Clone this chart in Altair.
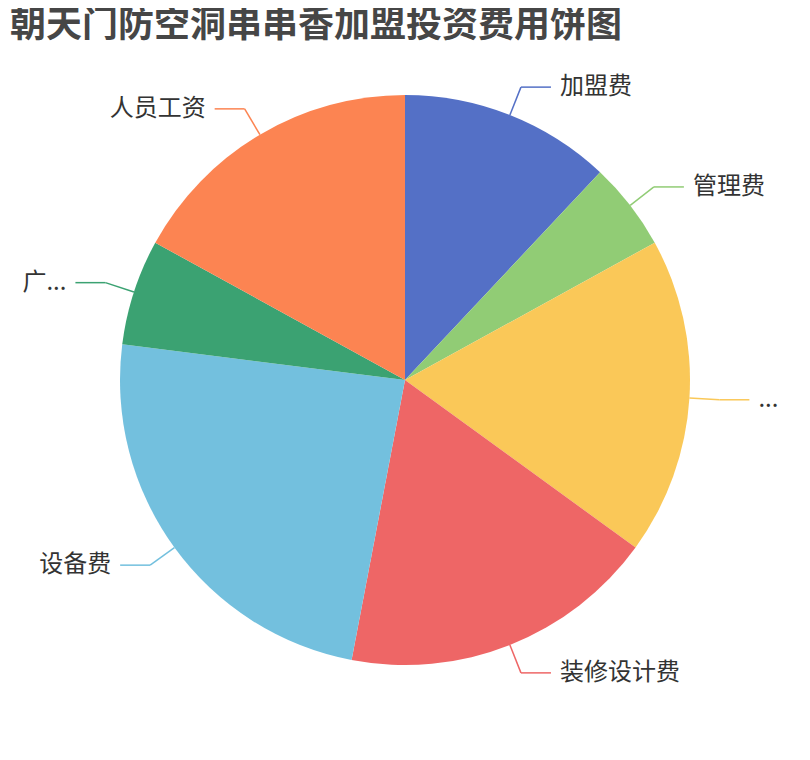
import altair as alt
import pandas as pd

# ---- data ----
names = ["加盟费", "管理费", "...", "装修设计费", "设备费", "广...", "人员工资"]
values = [6, 2.5, 9, 9, 12, 3, 8.5]
colors = ["#5470c6", "#91cc75", "#fac858", "#ee6666", "#73c0de", "#3ba272", "#fc8452"]
title_text = "朝天门防空洞串串香加盟投资费用饼图"

df = pd.DataFrame({"name": names, "value": values, "idx": list(range(len(names)))})

# ---- layout constants ----
W, H = 794, 644
R = 285      # pie radius (px)
L1 = 30      # radial leader segment
L2 = 30      # horizontal leader segment
GAP = 9      # gap between leader end and label
FONT = "Noto Sans CJK SC"

xs = alt.Scale(domain=[-W / 2, W / 2], nice=False, zero=False)
ys = alt.Scale(domain=[-H / 2, H / 2], nice=False, zero=False)
color = alt.Color("name:N", scale=alt.Scale(domain=names, range=colors), legend=None)

base = (
    alt.Chart(df)
    .transform_window(cum="sum(value)", sort=[{"field": "idx"}])
    .transform_joinaggregate(total="sum(value)")
    .transform_calculate(mid="(datum.cum - datum.value / 2) / datum.total * 2 * PI")
    .transform_calculate(s="sin(datum.mid)")
    .transform_calculate(c="cos(datum.mid)")
    .transform_calculate(x0=f"{R} * datum.s")
    .transform_calculate(y0=f"{R} * datum.c")
    .transform_calculate(x1=f"{R + L1} * datum.s")
    .transform_calculate(y1=f"{R + L1} * datum.c")
    .transform_calculate(side="datum.s >= 0 ? 1 : -1")
    .transform_calculate(x2=f"datum.x1 + {L2} * datum.side")
    .transform_calculate(xt=f"datum.x1 + {L2 + GAP} * datum.side")
)

pie = alt.Chart(df).mark_arc(outerRadius=R).encode(
    theta=alt.Theta("value:Q", stack=True),
    color=color,
    order=alt.Order("idx:Q"),
)

seg1 = base.mark_rule(strokeWidth=1.5).encode(
    x=alt.X("x0:Q", scale=xs, axis=None),
    y=alt.Y("y0:Q", scale=ys, axis=None),
    x2="x1:Q",
    y2="y1:Q",
    color=color,
)

seg2 = base.mark_rule(strokeWidth=1.5).encode(
    x=alt.X("x1:Q", scale=xs, axis=None),
    y=alt.Y("y1:Q", scale=ys, axis=None),
    x2="x2:Q",
    y2="y1:Q",
    color=color,
)

txt_right = base.transform_filter("datum.side > 0").mark_text(
    align="left", baseline="middle", font=FONT, fontSize=24, color="#333333"
).encode(
    x=alt.X("xt:Q", scale=xs, axis=None),
    y=alt.Y("y1:Q", scale=ys, axis=None),
    text="name:N",
)

txt_left = base.transform_filter("datum.side < 0").mark_text(
    align="right", baseline="middle", font=FONT, fontSize=24, color="#333333"
).encode(
    x=alt.X("xt:Q", scale=xs, axis=None),
    y=alt.Y("y1:Q", scale=ys, axis=None),
    text="name:N",
)

chart = (
    alt.layer(pie, seg1, seg2, txt_right, txt_left)
    .properties(
        width=W,
        height=H,
        autosize=alt.AutoSizeParams(type="none"),
        padding={"left": 0, "top": 50, "right": 0, "bottom": 0},
        title=alt.Title(
            title_text,
            anchor="start",
            frame="group",
            font=FONT,
            fontSize=36,
            fontWeight="bold",
            color="#464646",
            baseline="middle",
            offset=0,
            dx=2,
            dy=4,
        ),
    )
    .configure_view(stroke=None)
)

chart.save("out.html", embed_options={"renderer": "svg", "actions": False})
